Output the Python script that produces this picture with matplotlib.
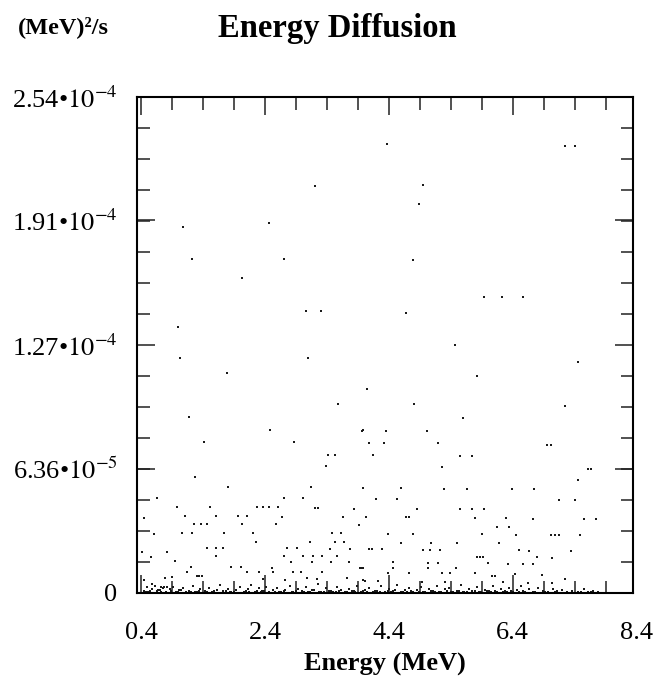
import matplotlib
matplotlib.use('Agg')
import numpy as np
from matplotlib import pyplot as plt
from matplotlib import transforms
from matplotlib.ticker import MultipleLocator, FixedLocator

plt.rcParams['font.family'] = ['Liberation Serif', 'DejaVu Serif']
plt.rcParams['mathtext.fontset'] = 'stix'

# energy in MeV, diffusion in units of 1e-5 (MeV)^2/s
e_high = [3.21, 1.08, 2.46, 1.22, 2.71, 2.03, 3.06, 3.30, 1.00, 4.37, 4.95, 4.88, 7.24, 7.40,
          4.79, 5.93, 6.22, 6.56, 4.67, 1.03, 3.09, 1.79, 4.05, 3.58, 1.17, 2.48, 3.98, 1.42,
          2.87, 3.42, 3.53, 3.38, 5.46, 7.45, 5.82, 4.80, 7.25, 5.59, 3.96, 4.35, 5.01, 4.08,
          4.32, 5.19, 6.96, 7.02, 4.14, 5.55, 5.75, 5.25, 7.61, 7.67]
d_high = [20.83, 18.73, 18.93, 17.09, 17.09, 16.11, 14.42, 14.42, 13.60, 22.99, 20.88, 19.91, 22.88, 22.88,
          17.03, 15.14, 15.14, 15.14, 14.32, 12.01, 12.01, 11.24, 10.42, 9.70, 9.03, 8.36, 8.36, 7.75,
          7.75, 7.08, 7.08, 6.52, 12.72, 11.85, 11.13, 9.70, 9.60, 8.98, 8.31, 8.31, 8.31, 7.70,
          7.70, 7.70, 7.59, 7.59, 7.08, 7.03, 7.03, 6.47, 6.36, 6.36]

e_mid = [1.27, 1.80, 3.14, 3.98, 0.66, 2.71, 3.01, 0.98, 1.51, 2.27, 2.37, 2.46, 2.61, 3.21, 3.25,
         3.84, 0.45, 1.11, 1.61, 1.96, 2.11, 2.67, 3.66, 4.03, 1.25, 1.37, 1.46, 2.03, 2.58, 3.92,
         0.61, 1.06, 1.22, 1.74, 2.21, 3.48, 3.63, 2.25, 3.13, 3.53, 3.67, 1.46, 1.61, 1.72, 2.75,
         2.92, 3.45, 3.77, 4.08, 0.42, 0.82, 0.56, 1.61, 2.71, 3.01, 3.17, 3.32, 3.56, 0.95, 2.82,
         3.16, 3.46, 3.75, 1.21, 1.85, 2.01, 2.51, 3.93, 3.98, 1.14, 2.11, 2.30, 2.53, 2.85, 2.98,
         3.32, 7.45, 4.59, 5.29, 5.66, 6.38, 6.74, 4.19, 4.53, 7.14, 7.40, 4.85, 5.55, 5.75, 5.93,
         4.67, 4.72, 5.79, 6.29, 6.72, 7.55, 7.74, 6.14, 6.34, 4.38, 4.79, 5.90, 6.45, 7.02, 7.08,
         7.14, 7.48, 4.59, 5.08, 5.50, 6.17, 4.13, 4.29, 4.95, 5.06, 5.22, 6.50, 6.67, 7.34, 5.82,
         5.87, 5.92, 6.79, 7.03, 3.96, 4.46, 4.46, 5.03, 5.03, 5.19, 5.48, 6.00, 6.32, 6.56, 6.72,
         4.38, 4.72, 5.25, 5.38, 5.79]
d_mid = [5.95, 5.44, 5.44, 5.39, 4.87, 4.87, 4.87, 4.41, 4.41, 4.41, 4.41, 4.41, 4.41, 4.36, 4.36,
         4.31, 3.85, 3.95, 3.95, 3.95, 3.95, 3.90, 3.90, 3.90, 3.54, 3.54, 3.54, 3.54, 3.54, 3.49,
         3.03, 3.08, 3.08, 3.08, 3.08, 3.08, 3.08, 2.62, 2.62, 2.62, 2.62, 2.31, 2.31, 2.31, 2.31,
         2.31, 2.26, 2.26, 2.26, 2.10, 2.10, 1.85, 1.90, 1.90, 1.90, 1.90, 1.90, 1.90, 1.64, 1.59,
         1.59, 1.59, 1.59, 1.33, 1.33, 1.33, 1.28, 1.28, 1.28, 1.08, 1.08, 1.08, 1.08, 1.08, 1.08,
         1.08, 5.80, 5.39, 5.34, 5.34, 5.34, 5.34, 4.82, 4.82, 4.77, 4.77, 4.31, 4.31, 4.31, 4.31,
         3.90, 3.90, 3.85, 3.85, 3.80, 3.80, 3.80, 3.39, 3.39, 3.03, 3.03, 3.03, 2.98, 2.98, 2.98,
         2.98, 2.98, 2.57, 2.57, 2.57, 2.57, 2.26, 2.26, 2.21, 2.21, 2.21, 2.21, 2.15, 2.15, 1.85,
         1.85, 1.85, 1.85, 1.80, 1.28, 1.59, 1.28, 1.54, 1.28, 1.54, 1.28, 1.54, 1.49, 1.49, 1.49,
         1.03, 1.03, 1.03, 1.03, 1.03]

e_low = [3.72, 3.98, 0.79, 0.90, 1.30, 1.34, 1.38, 0.45, 0.58, 0.72, 0.77, 0.82, 2.37, 2.72,
         3.08, 3.24, 6.06, 6.11, 6.43, 6.87, 7.24, 4.01, 4.22, 4.93, 5.30, 6.24, 6.64, 7.03]
d_low = [0.77, 0.67, 0.77, 0.82, 0.87, 0.87, 0.87, 0.67, 0.46, 0.31, 0.31, 0.31, 0.72, 0.67,
         0.77, 0.72, 0.87, 0.87, 0.97, 0.92, 0.72, 0.62, 0.62, 0.56, 0.56, 0.56, 0.51, 0.51]

e_base = [0.45, 0.50, 0.52, 0.58, 0.63, 0.66, 0.70, 0.75, 0.80, 0.86, 0.92, 0.96, 1.02, 1.08, 1.12,
          1.18, 1.24, 1.30, 1.36, 1.43, 1.50, 1.55, 1.62, 1.68, 1.73, 1.80, 1.86, 1.93, 2.00, 2.06,
          2.12, 2.18, 2.24, 2.30, 2.36, 2.42, 2.47, 2.53, 2.60, 2.66, 2.73, 2.80, 2.86, 2.93, 3.00,
          3.06, 3.12, 3.19, 3.25, 3.31, 3.38, 3.44, 3.50, 3.57, 3.63, 3.70, 3.76, 3.83, 3.89, 3.95,
          4.02, 4.08, 4.15, 4.21, 4.28, 4.34, 4.41, 4.47, 4.53, 4.60, 4.66, 4.72, 4.79, 4.85, 4.92,
          4.98, 5.05, 5.11, 5.18, 5.24, 5.30, 5.37, 5.43, 5.50, 5.56, 5.62, 5.69, 5.75, 5.82, 5.88,
          5.95, 6.01, 6.08, 6.14, 6.21, 6.27, 6.34, 6.40, 6.47, 6.53, 6.60, 6.66, 6.73, 6.80, 6.88,
          6.97, 7.05, 7.12, 7.20, 7.28, 7.36, 7.45, 7.55, 7.62, 7.70, 7.78]
d_base = [0.12, 0.30, 0.05, 0.20, 0.38, 0.08, 0.15, 0.25, 0.05, 0.18, 0.33, 0.07, 0.15, 0.26, 0.04,
          0.12, 0.36, 0.06, 0.20, 0.10, 0.28, 0.05, 0.15, 0.40, 0.08, 0.22, 0.04, 0.13, 0.30, 0.07,
          0.18, 0.42, 0.05, 0.24, 0.10, 0.33, 0.04, 0.16, 0.26, 0.06, 0.14, 0.35, 0.05, 0.20, 0.10,
          0.30, 0.04, 0.17, 0.44, 0.07, 0.24, 0.12, 0.04, 0.33, 0.15, 0.06, 0.22, 0.10, 0.38, 0.04,
          0.16, 0.28, 0.06, 0.12, 0.34, 0.05, 0.20, 0.10, 0.42, 0.04, 0.16, 0.26, 0.07, 0.14, 0.32,
          0.04, 0.20, 0.10, 0.36, 0.05, 0.18, 0.27, 0.06, 0.12, 0.40, 0.04, 0.22, 0.10, 0.30, 0.05,
          0.16, 0.08, 0.34, 0.04, 0.20, 0.12, 0.26, 0.05, 0.15, 0.38, 0.07, 0.18, 0.04, 0.28, 0.10,
          0.05, 0.22, 0.08, 0.15, 0.05, 0.12, 0.06, 0.18, 0.05, 0.10, 0.04]

e_floor = [0.48, 0.55, 0.62, 0.68, 0.73, 0.84, 0.89, 1.00, 1.05, 1.15, 1.21, 1.27, 1.33, 1.40, 1.47,
           1.58, 1.65, 1.77, 1.83, 1.90, 1.97, 2.09, 2.15, 2.21, 2.27, 2.33, 2.39, 2.50, 2.56, 2.63,
           2.70, 2.77, 2.83, 2.90, 2.97, 3.03, 3.09, 3.16, 3.22, 3.28, 3.35, 3.41, 3.47, 3.54, 3.60,
           3.67, 3.73, 3.80, 3.86, 3.92, 3.99, 4.05, 4.12, 4.18, 4.25, 4.31, 4.38, 4.44, 4.50, 4.57,
           4.63, 4.69, 4.76, 4.82, 4.89, 4.95, 5.02, 5.08, 5.15, 5.21, 5.27, 5.34, 5.40, 5.47, 5.53,
           5.59, 5.66, 5.72, 5.79, 5.85, 5.92, 5.98, 6.05, 6.11, 6.18, 6.24, 6.31, 6.37, 6.44, 6.50,
           6.57, 6.63, 6.76, 6.92, 7.08, 7.32, 7.50, 7.66]
d_floor = [0.03, 0.10, 0.02, 0.14, 0.06, 0.02, 0.09, 0.04, 0.13, 0.02, 0.07, 0.03, 0.11, 0.02, 0.05,
           0.09, 0.02, 0.12, 0.03, 0.06, 0.02, 0.10, 0.04, 0.02, 0.08, 0.03, 0.12, 0.02, 0.06, 0.03,
           0.09, 0.02, 0.05, 0.11, 0.02, 0.07, 0.03, 0.13, 0.02, 0.06, 0.04, 0.02, 0.10, 0.03, 0.08,
           0.02, 0.05, 0.12, 0.03, 0.02, 0.09, 0.04, 0.02, 0.11, 0.05, 0.02, 0.08, 0.03, 0.13, 0.02,
           0.06, 0.03, 0.10, 0.02, 0.07, 0.04, 0.02, 0.12, 0.03, 0.05, 0.02, 0.09, 0.04, 0.02, 0.11,
           0.03, 0.07, 0.02, 0.10, 0.04, 0.02, 0.08, 0.03, 0.12, 0.02, 0.06, 0.03, 0.09, 0.02, 0.05,
           0.10, 0.02, 0.04, 0.07, 0.03, 0.02, 0.06, 0.03]

xtick_values = [0.4, 2.4, 4.4, 6.4]
xtick_labels = ['0.4', '2.4', '4.4', '6.4']
ytick_values = [0, 6.36e-5, 1.27e-4, 1.91e-4, 2.54e-4]
ytick_labels = ['0', '6.36•$10^{-5}$', '1.27•$10^{-4}$', '1.91•$10^{-4}$', '2.54•$10^{-4}$']

fig = plt.figure(figsize=(6.56, 6.79), dpi=100)
ax = fig.add_axes([0.2088, 0.1267, 0.7561, 0.7305])

for e, d in [(e_high, d_high), (e_mid, d_mid), (e_low, d_low), (e_base, d_base), (e_floor, d_floor)]:
    ax.plot(e, np.array(d) * 1e-5, 's', color='#1a1a1a', markersize=2.0, markeredgewidth=0)

ax.set_xlim(0.335, 8.34)
ax.set_ylim(0, 2.54e-4)
ax.set_xticks(xtick_values)
ax.set_xticklabels(xtick_labels)
ax.xaxis.set_minor_locator(FixedLocator(np.arange(0.4, 8.34, 0.5)))
ax.set_yticks(ytick_values)
ax.set_yticklabels(ytick_labels)
ax.yaxis.set_minor_locator(MultipleLocator(2.54e-4 / 16))

ax.tick_params(which='both', direction='in', top=True, right=True, width=1.1, color='#222222')
ax.tick_params(which='major', length=13)
ax.tick_params(which='minor', length=9)
ax.tick_params(axis='x', which='major', labelsize=19, pad=21)
ax.tick_params(axis='y', which='major', labelsize=19, pad=14)
for sp in ax.spines.values():
    sp.set_linewidth(1.5)

# last label sits just past the frame
trans = transforms.blended_transform_factory(ax.transData, ax.transAxes)
ax.text(8.4, -0.059, '8.4', transform=trans, ha='center', va='top', fontsize=19, clip_on=False)

fig.text(18 / 656, 1 - 27 / 679, '(MeV)²/s', fontsize=17.5, fontweight='bold', va='center', ha='left')
fig.text(218 / 656, 1 - 28 / 679, 'Energy Diffusion', fontsize=23.5, fontweight='bold', va='center', ha='left')
fig.text(385 / 656, 1 - 664 / 679, 'Energy (MeV)', fontsize=19, fontweight='bold', va='center', ha='center')

fig.savefig('out.png', dpi=100)
